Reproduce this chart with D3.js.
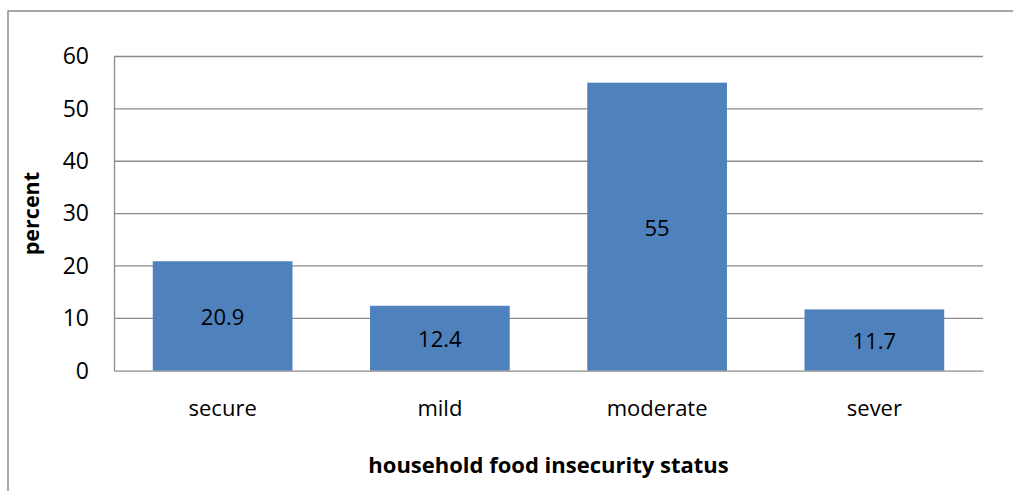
<!DOCTYPE html>
<html><head><meta charset="utf-8">
<script src="https://cdn.jsdelivr.net/npm/d3@7"></script>
<style>html,body{margin:0;padding:0;background:#fff;}svg{display:block;}</style>
</head><body>
<svg id="chart" width="1013" height="491"></svg>
<script>
const categories = ["secure", "mild", "moderate", "sever"];
const values = [20.9, 12.4, 55, 11.7];
const valueLabels = ["20.9", "12.4", "55", "11.7"];
const yTicks = [0, 10, 20, 30, 40, 50, 60];
const xTitle = "household food insecurity status";
const yTitle = "percent";

(function () {
const svg = d3.select("#chart");
const font = "'Open Sans', 'Noto Sans', sans-serif";
const pLeft = 114, pRight = 983, pTop = 56.5, pBottom = 370.7;

// outer frame
svg.append("rect").attr("x", 8).attr("y", 11).attr("width", 1030).attr("height", 520)
  .attr("fill", "none").attr("stroke", "#8a8a8a").attr("stroke-width", 1.5);

const x = d3.scaleBand().domain(categories).range([pLeft, pRight]).paddingInner(0.357).paddingOuter(0.1785);
const y = d3.scaleLinear().domain([0, 60]).range([pBottom, pTop]);

// gridlines
svg.append("g").selectAll("line").data(yTicks.filter(t => t > 0)).join("line")
  .attr("x1", pLeft).attr("x2", pRight)
  .attr("y1", d => y(d)).attr("y2", d => y(d))
  .attr("stroke", "#8c8c8c").attr("stroke-width", 1.3);

// bars
svg.append("g").selectAll("rect").data(values).join("rect")
  .attr("x", (d, i) => x(categories[i]))
  .attr("width", x.bandwidth())
  .attr("y", d => y(d))
  .attr("height", d => y(0) - y(d))
  .attr("fill", "#4f81bd");

// axes
const yAxis = d3.axisLeft(y).tickValues(yTicks).tickSize(0).tickPadding(25).tickFormat(d3.format("d"));
const gy = svg.append("g").attr("transform", `translate(${pLeft},0)`).call(yAxis);
gy.select(".domain").attr("stroke", "#8c8c8c").attr("stroke-width", 1.3);
gy.selectAll("text").attr("font-family", font).attr("font-size", 23).attr("fill", "#000");

const xAxis = d3.axisBottom(x).tickSize(0).tickPadding(30);
const gx = svg.append("g").attr("transform", `translate(0,${pBottom})`).call(xAxis);
gx.select(".domain").attr("stroke", "#8c8c8c").attr("stroke-width", 1.3);
gx.selectAll("text").attr("font-family", font).attr("font-size", 22).attr("fill", "#000");

// value labels
svg.append("g").selectAll("text").data(values).join("text")
  .attr("x", (d, i) => x(categories[i]) + x.bandwidth() / 2)
  .attr("y", d => (y(d) + y(0)) / 2 + 1.5)
  .attr("dy", "0.35em")
  .attr("text-anchor", "middle")
  .attr("font-family", font).attr("font-size", 22).attr("fill", "#000")
  .text((d, i) => valueLabels[i]);

// axis titles
svg.append("text").attr("x", (pLeft + pRight) / 2).attr("y", 473)
  .attr("text-anchor", "middle").attr("font-family", font).attr("font-weight", "bold")
  .attr("font-size", 22).attr("fill", "#000").text(xTitle);
svg.append("text").attr("transform", `translate(39,${(pTop + pBottom) / 2}) rotate(-90)`)
  .attr("text-anchor", "middle").attr("font-family", font).attr("font-weight", "bold")
  .attr("font-size", 21.5).attr("fill", "#000").text(yTitle);
})();
</script>
</body></html>
